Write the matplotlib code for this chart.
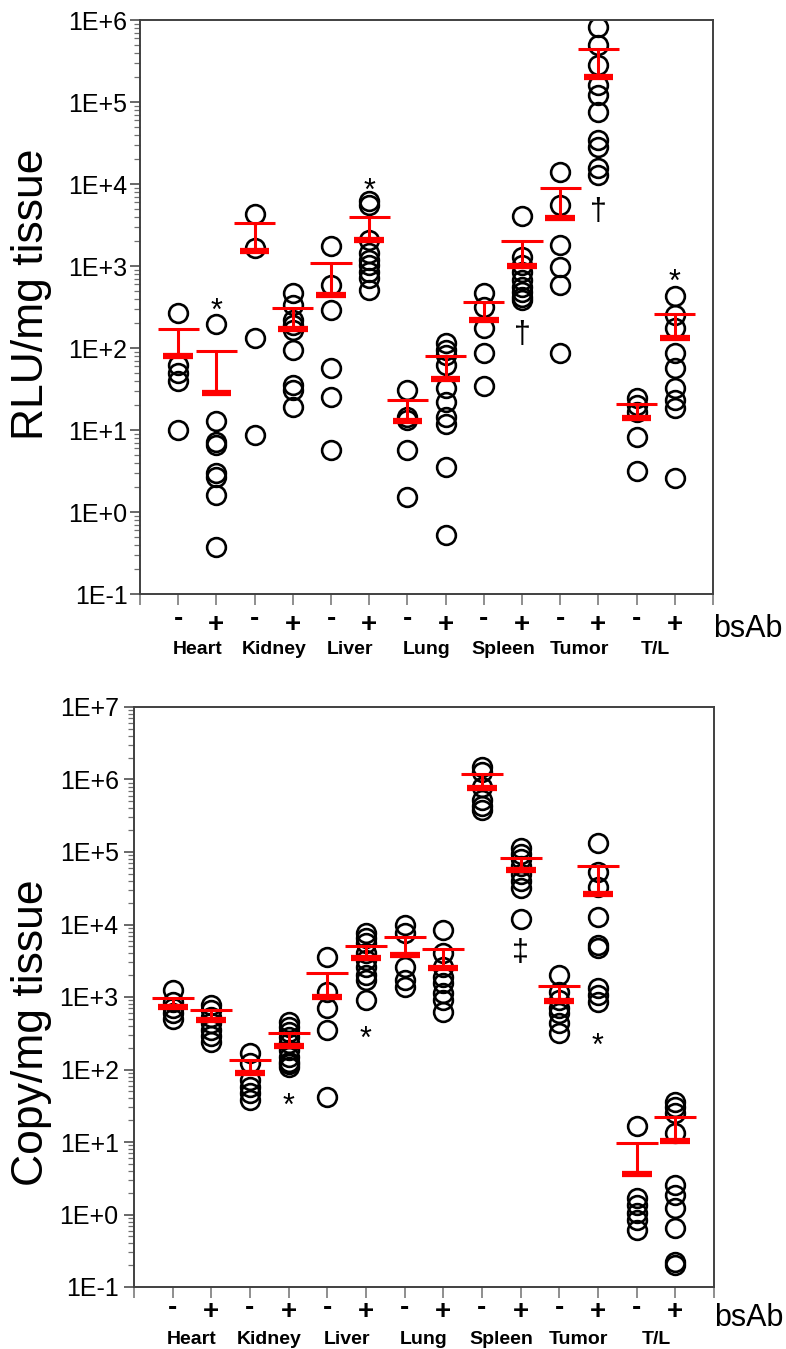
import matplotlib
matplotlib.use("Agg")
import matplotlib.pyplot as plt

plt.rcParams['font.family'] = ['Liberation Sans', 'DejaVu Sans']

organs = ["Heart", "Kidney", "Liver", "Lung", "Spleen", "Tumor", "T/L"]
signs = ["-", "+"]

# top panel: RLU/mg tissue, 14 groups (organ x bsAb -/+)
rlu_values = [
    [270, 62, 50, 40, 10],
    [195, 13, 7.2, 6.6, 3.0, 2.7, 1.6, 0.37],
    [4270, 1640, 131, 8.7],
    [464, 334, 219, 191, 166, 95, 35, 31, 19],
    [1750, 586, 290, 57, 25.5, 5.7],
    [6200, 5600, 2070, 1440, 1180, 1030, 845, 714, 509],
    [30.7, 14.5, 13.2, 5.7, 1.54],
    [114, 95, 82, 62, 32.5, 22, 14.5, 12, 3.5, 0.52],
    [464, 319, 174, 88, 34.4],
    [4070, 1300, 1030, 845, 675, 555, 482, 419, 385],
    [14100, 5540, 1800, 980, 586, 88],
    [828000, 495000, 282000, 161000, 122000, 76200, 34400, 28500, 15500, 12900],
    [24.4, 20.2, 16.7, 8.3, 3.19],
    [431, 252, 174, 88, 56.5, 32.3, 23.2, 18.4, 2.58],
]
rlu_mean = [80, 28, 1540, 171, 443, 2050, 13, 42, 219, 1010, 3810, 200000, 14.1, 131]
rlu_upper = [171, 92, 3370, 305, 1080, 3930, 23.2, 80, 367, 2035, 9020, 443000, 20.7, 262]
# significance marks: (group index, y value, symbol)
rlu_marks = [(2, 275, "*"), (6, 7980, "*"), (14, 621, "*"),
             (10, 144, "\u2020"), (12, 4560, "\u2020")]

# bottom panel: Copy/mg tissue
copy_values = [
    [1230, 850, 700, 600, 500],
    [776, 662, 529, 437, 351, 290, 239],
    [167, 122, 72, 58, 47, 38],
    [456, 389, 332, 283, 230, 186, 150, 128, 120, 109],
    [3600, 1180, 698, 351, 42],
    [7570, 6520, 5560, 4010, 3240, 2620, 2010, 1710, 910],
    [9840, 7570, 2620, 1710, 1390],
    [8400, 4010, 2620, 1905, 1544, 1125, 910, 627],
    [1.5e6, 1.25e6, 8e5, 5.2e5, 4.3e5, 3.8e5],
    [1.15e5, 9.5e4, 8e4, 6.5e4, 5e4, 4e4, 3.2e4, 1.2e4],
    [2010, 1180, 910, 705, 596, 434, 316],
    [1.32e5, 5.35e4, 3.32e4, 1.28e4, 5210, 4690, 1318, 1067, 861],
    [16.6, 1.67, 1.35, 1.04, 0.84, 0.61],
    [36, 30.7, 24.9, 13.2, 2.55, 1.86, 1.22, 0.645, 0.223, 0.2],
]
copy_mean = [735, 482, 90, 213, 991, 3420, 3790, 2535, 7.7e5, 5.65e4, 889, 2.63e4, 3.62, 10.4]
copy_upper = [960, 662, 135, 322, 2163, 5050, 6790, 4550, 1.18e6, 8.35e4, 1419, 6.47e4, 9.8, 22.3]
copy_marks = [(4, 30.4, "*"), (6, 255, "*"), (12, 204, "*"), (10, 4040, "\u2021")]

W, H = 786, 1349
fig = plt.figure(figsize=(W / 100, H / 100), dpi=100)

spine_col = "#404040"


def below(ax, text, x, px, **kw):
    # text whose baseline sits px pixels under the bottom spine
    ax.annotate(text, xy=(x, 0), xycoords=("data", "axes fraction"),
                xytext=(0, -px * 0.72), textcoords="offset points",
                va="baseline", **kw)


def draw_panel(ax, values, mean, upper, marks, ymin_exp, ymax_exp, offs, ypad):
    for i, vals in enumerate(values):
        x = i + 1
        ax.plot([x] * len(vals), vals, "o", ms=13.5, mfc="none", mec="black",
                mew=1.9, zorder=2)
    xs = range(1, len(mean) + 1)
    ax.vlines(xs, mean, upper, color="red", lw=2.2, zorder=3)
    ax.hlines(upper, [x - 0.54 for x in xs], [x + 0.54 for x in xs],
              color="red", lw=2.2, zorder=3)
    ax.hlines(mean, [x - 0.39 for x in xs], [x + 0.39 for x in xs],
              color="red", lw=4.5, zorder=3)
    for g, yv, sym in marks:
        ax.text(g, yv, sym, ha="center", va="center", fontsize=22, zorder=4)

    ax.set_yscale("log")
    ax.set_ylim(10.0 ** ymin_exp, 10.0 ** ymax_exp)
    ax.set_xlim(0, 15)
    ticks = [10.0 ** e for e in range(ymin_exp, ymax_exp + 1)]
    ax.set_yticks(ticks)
    ax.set_yticklabels([("1E+%d" % e) if e >= 0 else ("1E%d" % e)
                        for e in range(ymin_exp, ymax_exp + 1)], fontsize=18)
    ax.yaxis.set_minor_locator(matplotlib.ticker.LogLocator(base=10, subs=range(2, 10), numticks=20))
    ax.yaxis.set_minor_formatter(matplotlib.ticker.NullFormatter())
    ax.tick_params(axis="y", which="major", direction="out", length=7,
                   width=1.1, color=spine_col, pad=ypad)
    ax.tick_params(axis="y", which="minor", direction="out", length=4,
                   width=0.9, color="#707070")
    ax.set_xticks(range(0, 16))
    ax.set_xticklabels([])
    ax.tick_params(axis="x", direction="out", length=8, width=1.1, color="#707070")
    for sp in ax.spines.values():
        sp.set_color(spine_col)
        sp.set_linewidth(1.4)

    minus_off, plus_off, name_off, bsab_off = offs
    for i in range(14):
        below(ax, signs[i % 2], i + 1, minus_off if i % 2 == 0 else plus_off,
              ha="center", fontsize=20, fontweight="bold")
    for k, name in enumerate(organs):
        below(ax, name, 2 * k + 1.5, name_off, ha="center", fontsize=14,
              fontweight="bold")
    below(ax, "bsAb", 15, bsab_off, ha="left", fontsize=22)


ax1 = fig.add_axes([140 / W, 1 - 594 / H, 573 / W, 574 / H])
draw_panel(ax1, rlu_values, rlu_mean, rlu_upper, rlu_marks, -1, 6,
           (32, 38, 60, 43), 2)
fig.text(32 / W, 1 - 294 / H, "RLU/mg tissue", rotation=90, ha="center",
         va="center", fontsize=32)

ax2 = fig.add_axes([134 / W, 1 - 1287 / H, 580 / W, 580 / H])
draw_panel(ax2, copy_values, copy_mean, copy_upper, copy_marks, -1, 7,
           (28, 32, 57, 39), 4)
fig.text(32 / W, 1 - 1033 / H, "Copy/mg tissue", rotation=90, ha="center",
         va="center", fontsize=32)

fig.savefig("out.png", dpi=100)
